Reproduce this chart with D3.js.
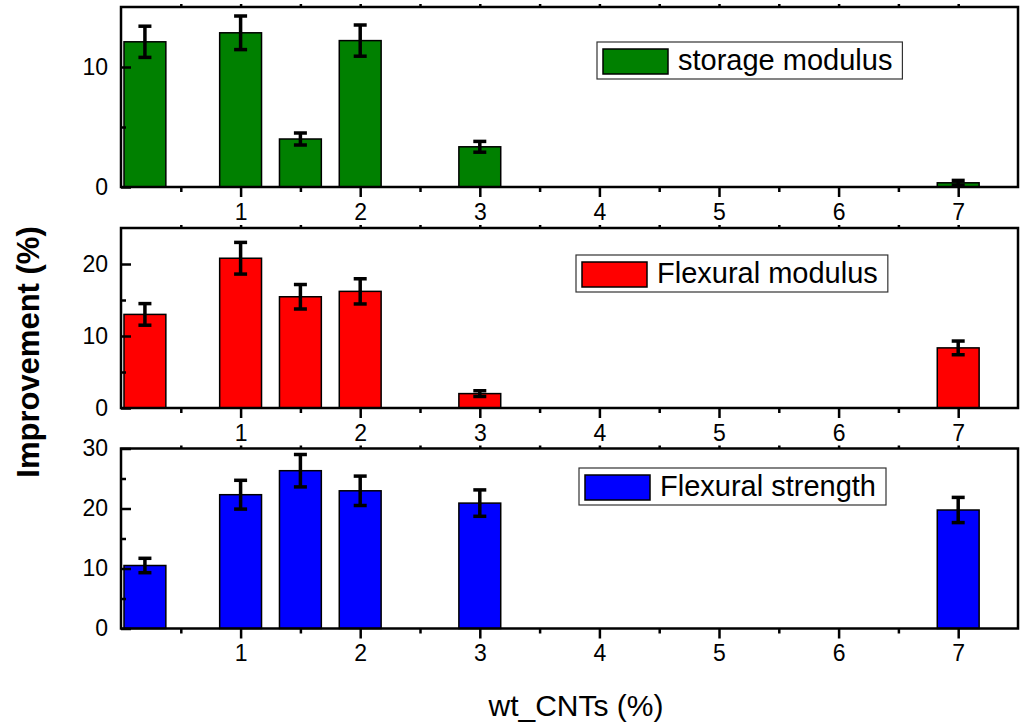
<!DOCTYPE html>
<html>
<head>
<meta charset="utf-8">
<script src="https://cdn.jsdelivr.net/npm/d3@7"></script>
<style>
  body { margin: 0; background: #fff; }
  svg { display: block; font-family: "Liberation Sans", Arial, sans-serif; }
</style>
</head>
<body>
<div id="chart"></div>
<script>
// wt % of CNTs for each bar
const wt = [0.2, 1, 1.5, 2, 3, 7];

// improvement values (%) and their error bars
const storageModulus = [12.1, 12.85, 4.0, 12.2, 3.35, 0.35];
const storageModulusErr = [1.3, 1.4, 0.5, 1.3, 0.45, 0.2];
const flexuralModulus = [13.0, 20.8, 15.45, 16.2, 2.0, 8.35];
const flexuralModulusErr = [1.5, 2.2, 1.7, 1.75, 0.4, 0.95];
const flexuralStrength = [10.5, 22.3, 26.3, 22.95, 20.9, 19.75];
const flexuralStrengthErr = [1.2, 2.4, 2.7, 2.45, 2.2, 2.1];

const seriesNames = ['storage modulus', 'Flexural modulus', 'Flexural strength'];
const seriesColors = ['#008000', '#ff0000', '#0000ff'];
const yMax = [15, 25, 30];
const xMajorTicks = [1, 2, 3, 4, 5, 6, 7];
const xMinorTicks = [0.5, 1.5, 2.5, 3.5, 4.5, 5.5, 6.5];

const W = 1020, H = 723;
const left = 121, right = 1018;
const panelTops = [7, 228, 448.5];
const panelH = 180;
const barW = 0.35; // in x units

const svg = d3.select('#chart').append('svg')
  .attr('width', W)
  .attr('height', H);

const x = d3.scaleLinear().domain([0, 7.5]).range([left, right]);

const panels = [
  { values: storageModulus, errs: storageModulusErr },
  { values: flexuralModulus, errs: flexuralModulusErr },
  { values: flexuralStrength, errs: flexuralStrengthErr }
];

const legendBoxes = [
  { x: 597, y: 42 },
  { x: 576, y: 255 },
  { x: 579, y: 468 }
];

panels.forEach((p, i) => {
  const top = panelTops[i];
  const bottom = top + panelH;
  const y = d3.scaleLinear().domain([0, yMax[i]]).range([bottom, top]);
  const g = svg.append('g');

  const majors = d3.range(0, yMax[i] + 0.01, 10);
  const minors = d3.range(5, yMax[i], 10);
  const rows = wt.map((w, j) => ({ w, v: p.values[j], e: p.errs[j] }));

  // bars
  g.selectAll('rect.bar')
    .data(rows)
    .enter().append('rect')
    .attr('class', 'bar')
    .attr('x', d => x(d.w - barW / 2))
    .attr('y', d => y(d.v))
    .attr('width', d => x(d.w + barW / 2) - x(d.w - barW / 2))
    .attr('height', d => y(0) - y(d.v))
    .style('fill', seriesColors[i])
    .style('stroke', '#000')
    .style('stroke-width', 1.5);

  // error bars
  const eb = g.selectAll('g.err')
    .data(rows)
    .enter().append('g')
    .attr('class', 'err');
  eb.append('line')
    .attr('x1', d => x(d.w)).attr('x2', d => x(d.w))
    .attr('y1', d => y(d.v - d.e)).attr('y2', d => y(d.v + d.e))
    .style('stroke', '#000').style('stroke-width', 3.5);
  eb.selectAll('line.cap')
    .data(d => [d.v - d.e, d.v + d.e].map(v => ({ w: d.w, v })))
    .enter().append('line')
    .attr('class', 'cap')
    .attr('x1', d => x(d.w) - 6.5).attr('x2', d => x(d.w) + 6.5)
    .attr('y1', d => y(d.v)).attr('y2', d => y(d.v))
    .style('stroke', '#000').style('stroke-width', 3.5);

  // y axis, ticks pointing inward
  g.append('g')
    .attr('transform', `translate(${left},0)`)
    .call(d3.axisLeft(y).tickValues(majors).tickSize(-10).tickPadding(13).tickFormat(d3.format('d')));
  g.append('g')
    .attr('transform', `translate(${left},0)`)
    .call(d3.axisLeft(y).tickValues(minors).tickSize(-5).tickFormat(''));

  // x axis bottom, ticks outward
  g.append('g')
    .attr('transform', `translate(0,${bottom})`)
    .call(d3.axisBottom(x).tickValues(xMajorTicks).tickSize(10).tickPadding(6.5).tickFormat(d3.format('d')));
  g.append('g')
    .attr('transform', `translate(0,${bottom})`)
    .call(d3.axisBottom(x).tickValues(xMinorTicks).tickSize(5).tickFormat(''));

  // small ticks on the top frame
  g.append('g')
    .attr('transform', `translate(0,${top})`)
    .call(d3.axisTop(x).tickValues(xMajorTicks.concat(xMinorTicks)).tickSize(3).tickFormat(''));

  g.selectAll('.domain').remove();
  g.selectAll('.tick line').style('stroke', '#000').style('stroke-width', 2.5);
  g.selectAll('.tick text')
    .style('font-size', '23px')
    .style('font-family', '"Liberation Sans", Arial, sans-serif')
    .style('fill', '#000');

  // frame
  g.append('rect')
    .attr('x', left).attr('y', top)
    .attr('width', right - left).attr('height', panelH)
    .style('fill', 'none')
    .style('stroke', '#000')
    .style('stroke-width', 2.5);

  // legend
  const lb = legendBoxes[i];
  const lg = g.append('g').attr('transform', `translate(${lb.x},${lb.y})`);
  const box = lg.append('rect')
    .attr('height', 37)
    .style('fill', '#fff')
    .style('stroke', '#333')
    .style('stroke-width', 1.2);
  lg.append('rect')
    .attr('x', 6).attr('y', 7)
    .attr('width', 65).attr('height', 25)
    .style('fill', seriesColors[i])
    .style('stroke', '#000')
    .style('stroke-width', 1.5);
  const lt = lg.append('text')
    .attr('x', 81).attr('y', 28)
    .style('font-size', '29px')
    .style('fill', '#000')
    .text(seriesNames[i]);
  box.attr('width', 81 + lt.node().getComputedTextLength() + 10);
});

// axis titles
svg.append('text')
  .attr('x', 576).attr('y', 716)
  .style('text-anchor', 'middle')
  .style('font-size', '30px')
  .text('wt_CNTs (%)');

svg.append('text')
  .attr('transform', 'translate(39,352) rotate(-90)')
  .style('text-anchor', 'middle')
  .style('font-size', '31px')
  .style('font-weight', 'bold')
  .text('Improvement (%)');
</script>
</body>
</html>
